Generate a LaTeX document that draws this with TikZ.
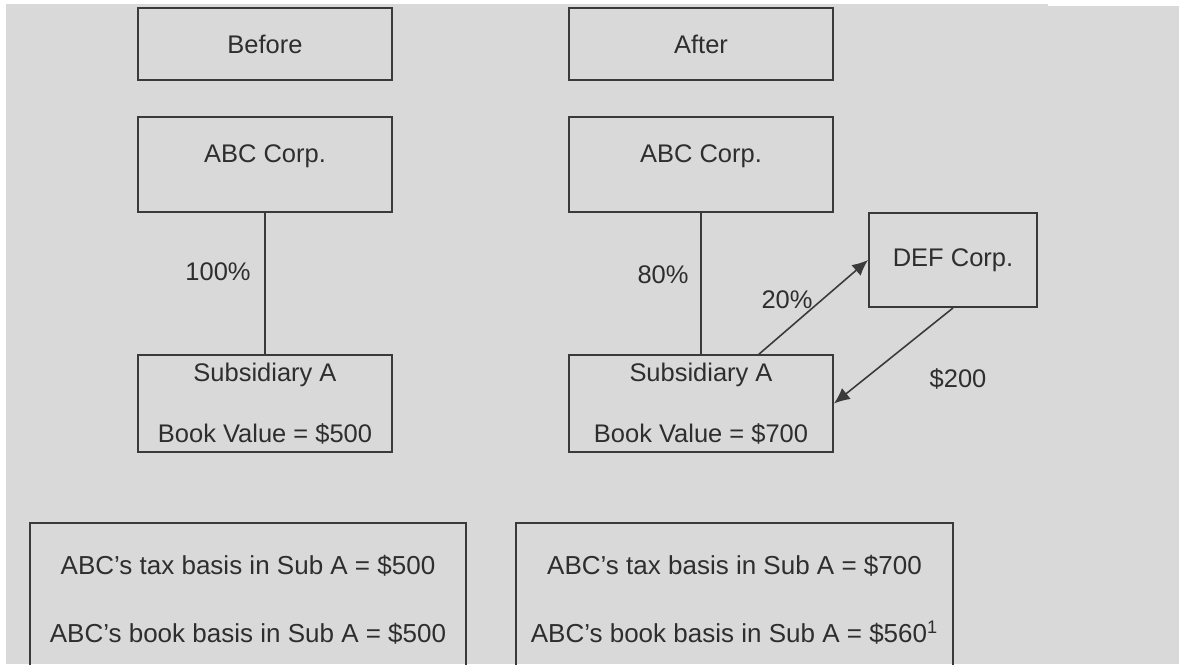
\documentclass[tikz,border=0pt]{standalone}
\usepackage{fontspec}
\setmainfont{Liberation Sans}
\usetikzlibrary{arrows.meta}

\definecolor{bggray}{HTML}{D9D9D9}
\definecolor{boxline}{HTML}{3A3A3A}
\definecolor{txt}{HTML}{2E2E2E}

\tikzset{
  box/.style={draw=boxline, line width=1.1pt, text=txt, align=center,
    inner sep=0pt, font=\fontsize{14.5}{35}\selectfont},
  basisbox/.style={box, anchor=north, font=\fontsize{14.8}{38.6}\selectfont},
  lbl/.style={text=txt, font=\fontsize{14.5}{17}\selectfont},
  own/.style={draw=boxline, line width=0.9pt},
  flow/.style={own, -{Latex[length=9pt,width=8pt]}},
}

\begin{document}
\begin{tikzpicture}[x=0.02cm, y=-0.02cm]
\clip (0,0) rectangle (1179,664);
% background
\fill[white] (0,0) rectangle (1179,664);
\fill[bggray] (6,4) rectangle (1048,664);
\fill[bggray] (1048,6) rectangle (1179,664);
% headings
\node[box, minimum width=5.08cm, minimum height=1.44cm] (before) at (265,44) {Before};
\node[box, minimum width=5.28cm, minimum height=1.44cm] (after) at (701,44) {After};
% parent boxes
\node[box, minimum width=5.08cm, minimum height=1.9cm, text depth=12.5pt] (abcL) at (265,164.5) {ABC Corp.};
\node[box, minimum width=5.28cm, minimum height=1.9cm, text depth=12.5pt] (abcR) at (701,164.5) {ABC Corp.};
% subsidiaries
\node[box, minimum width=5.08cm, minimum height=1.94cm] (subL) at (265,403.5) {Subsidiary A\\Book Value = \$500};
\node[box, minimum width=5.28cm, minimum height=1.94cm] (subR) at (701,403.5) {Subsidiary A\\Book Value = \$700};
\node[box, minimum width=3.36cm, minimum height=1.88cm] (defC) at (953,260) {DEF Corp.};
% ownership lines
\draw[own] (abcL) -- (subL);
\node[lbl] (pctL) at (218,272) {100\%};
\draw[own] (abcR) -- (subR);
\node[lbl] (pctR) at (663,275) {80\%};
% transfer
\coordinate (tail20) at (758,355);
\draw[flow] (tail20) -- (defC.west);
\node[lbl] (pctD) at (787,300) {20\%};
\draw[flow] (defC.south) -- (subR.east);
\node[lbl] (cash) at (958,379) {\$200};
% basis summary
\node[basisbox, minimum width=8.72cm, minimum height=3.08cm] (basisL) at (248,522)
  {ABC’s tax basis in Sub A = \$500\\ABC’s book basis in Sub A = \$500};
\node[basisbox, minimum width=8.74cm, minimum height=3.08cm] (basisR) at (734.5,522)
  {ABC’s tax basis in Sub A = \$700\\ABC’s book basis in Sub A = \$560\textsuperscript{1}};
\end{tikzpicture}
\end{document}
